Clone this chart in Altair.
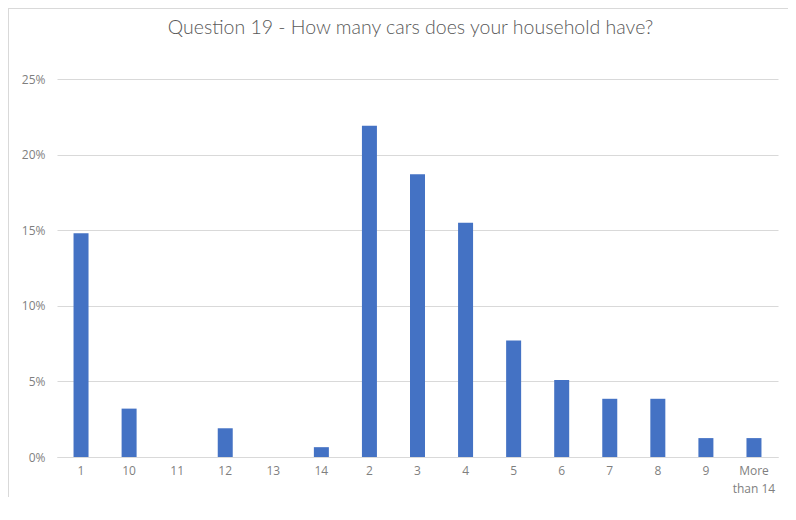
import altair as alt
import pandas as pd

categories = ["1", "10", "11", "12", "13", "14", "2", "3", "4", "5", "6", "7", "8", "9", "More than 14"]
shares = [0.148, 0.032, 0.0, 0.019, 0.0, 0.0065, 0.219, 0.187, 0.155, 0.077, 0.051, 0.0385, 0.0385, 0.0125, 0.0125]
y_ticks = [0, 0.05, 0.10, 0.15, 0.20, 0.25]

df = pd.DataFrame({"cat": categories, "share": shares})

FONT = "Lato"
LABEL_FONT = "Open Sans"
GREY = "#595959"
LABEL_GREY = "#7f7f7f"

bars = alt.Chart(df).mark_bar(size=15, color="#4472C4").encode(
    x=alt.X("cat:N", sort=categories, title=None,
            scale=alt.Scale(paddingInner=0.0, paddingOuter=0.0),
            axis=alt.Axis(labelAngle=0, labelColor=LABEL_GREY, labelFont=LABEL_FONT, labelFontSize=12,
                          labelPadding=8, ticks=False, domain=True, domainColor="#d9d9d9",
                          labelExpr="datum.label == 'More than 14' ? ['More', 'than 14'] : datum.label",
                          labelLineHeight=18)),
    y=alt.Y("share:Q", title=None,
            scale=alt.Scale(domain=[0, 0.25], nice=False),
            axis=alt.Axis(values=y_ticks, format=".0%", labelColor=LABEL_GREY, labelFont=LABEL_FONT,
                          labelFontSize=12, labelPadding=12, ticks=False, domain=False,
                          grid=True, gridColor="#d9d9d9", gridWidth=1)),
)

frame_top = alt.Chart(df).mark_rule(color="#d9d9d9", strokeWidth=1).encode(
    x=alt.value(-49), x2=alt.value(800), y=alt.value(-70.5))
frame_left = alt.Chart(df).mark_rule(color="#d9d9d9", strokeWidth=1).encode(
    x=alt.value(-48.5), y=alt.value(-71), y2=alt.value(520))

chart = alt.layer(bars, frame_top, frame_left).properties(
    width=721, height=378,
    autosize=alt.AutoSizeParams(type="none"),
    padding={"left": 49, "top": 71, "right": 10, "bottom": 40},
    title=alt.TitleParams("Question 19 - How many cars does your household have?",
                          font=FONT, fontSize=19.5, fontWeight=300, color=GREY,
                          anchor="middle", offset=0, dy=31, dx=-7),
).configure_view(stroke=None)

chart.save("out.html", embed_options={"renderer": "svg", "actions": False})
